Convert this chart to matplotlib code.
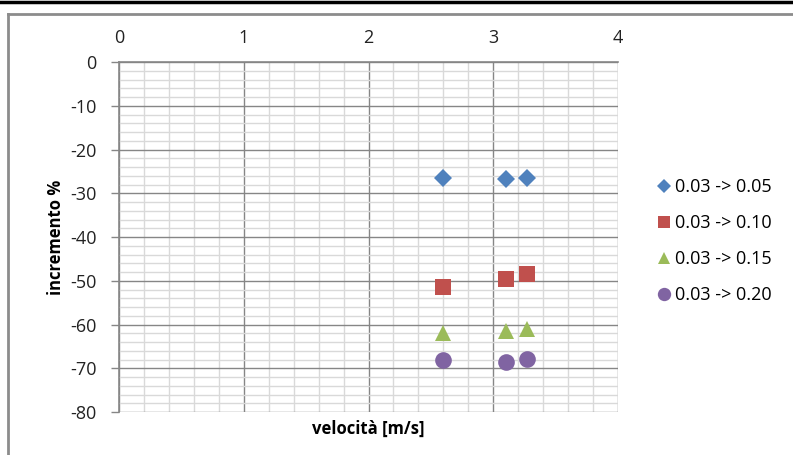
import matplotlib.pyplot as plt
from matplotlib.lines import Line2D
from matplotlib.ticker import MultipleLocator

# DATA
velocita = [2.6, 3.1, 3.27]
series_labels = ['0.03 -> 0.05', '0.03 -> 0.10', '0.03 -> 0.15', '0.03 -> 0.20']
inc_005 = [-26.4, -26.8, -26.5]
inc_010 = [-51.4, -49.5, -48.4]
inc_015 = [-61.9, -61.5, -61.1]
inc_020 = [-68.2, -68.6, -67.8]

# STYLE
MARKERS = ['D', 's', '^', 'o']
COLORS = ['#4F81BD', '#C0504D', '#9BBB59', '#8064A2']
SIZES = [9, 11, 11, 12]
plt.rcParams['font.family'] = ['Open Sans', 'DejaVu Sans']
plt.rcParams['axes.unicode_minus'] = False

fig = plt.figure(figsize=(7.93, 4.55), dpi=100)
ax = fig.add_axes([0.1501, 0.0945, 0.6292, 0.7692])

for vals, lab, m, c, s in zip([inc_005, inc_010, inc_015, inc_020],
                              series_labels, MARKERS, COLORS, SIZES):
    ax.plot(velocita, vals, linestyle='none', marker=m, color=c,
            markersize=s, markeredgewidth=0, label=lab, zorder=5)

ax.set_xlim(0, 4)
ax.set_ylim(-80, 0)
ax.xaxis.set_major_locator(MultipleLocator(1))
ax.xaxis.set_minor_locator(MultipleLocator(0.2))
ax.yaxis.set_major_locator(MultipleLocator(10))
ax.yaxis.set_minor_locator(MultipleLocator(2))

ax.grid(which='major', color='#868686', linewidth=1.0)
ax.grid(which='minor', color='#d9d9d9', linewidth=1.0)
ax.set_axisbelow(True)

ax.xaxis.tick_top()
ax.tick_params(axis='x', which='both', length=0, pad=11, labelsize=13, colors='#222222')
ax.tick_params(axis='y', which='major', length=6, width=1, color='#868686',
               pad=10, labelsize=13, labelcolor='#222222')
ax.tick_params(axis='y', which='minor', length=0)

for side in ['right', 'bottom']:
    ax.spines[side].set_visible(False)
for side in ['left', 'top']:
    ax.spines[side].set_color('#868686')
    ax.spines[side].set_linewidth(1.2)

ax.set_xlabel('velocità [m/s]', fontsize=12, fontweight='bold', labelpad=6)
ax.xaxis.set_label_position('bottom')
ax.set_ylabel('incremento %', fontsize=12, fontweight='bold', labelpad=4)

handles = [Line2D([], [], linestyle='none', marker=m, color=c, markersize=s * 0.8,
                  markeredgewidth=0) for m, c, s in zip(MARKERS, COLORS, SIZES)]
fig.legend(handles, series_labels, loc='upper left', bbox_to_anchor=(0.829, 0.609),
           frameon=False, fontsize=13, handlelength=0.7, handletextpad=0.25,
           labelspacing=1.0, borderaxespad=0, borderpad=0)

# page decorations
fig.add_artist(Line2D([0, 1], [0.995, 0.995], color='black', linewidth=2.5))
fig.add_artist(Line2D([0.0105, 1], [0.969, 0.969], color='#8c8c8c', linewidth=2))
fig.add_artist(Line2D([0.0105, 0.0105], [0, 0.969], color='#8c8c8c', linewidth=2))

fig.savefig('out.png', dpi=100)
